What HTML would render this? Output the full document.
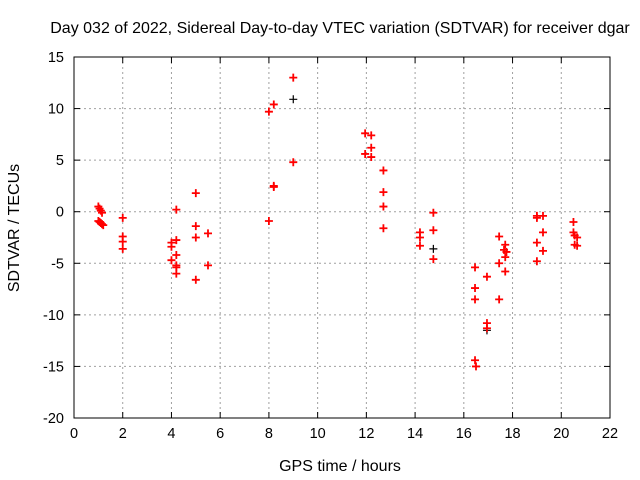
<!DOCTYPE html>
<html><head><meta charset="utf-8"><style>
body{margin:0;background:#fff;}
svg{display:block;font-family:"Liberation Sans",sans-serif;}
</style></head><body>
<svg id="chart" width="640" height="480">
<rect width="640" height="480" fill="#fff"/>
<text x="340" y="33" text-anchor="middle" font-size="16">Day 032 of 2022, Sidereal Day-to-day VTEC variation (SDTVAR) for receiver dgar</text>
<text x="340" y="471" text-anchor="middle" font-size="16">GPS time / hours</text>
<text transform="translate(19,228) rotate(-90)" text-anchor="middle" font-size="16">SDTVAR / TECUs</text>
<g id="grid"></g><g id="ticks"></g><g id="marks"></g>
<rect x="74" y="57" width="536" height="361" fill="none" stroke="#000"/>
</svg>
<script>
const xTicks=[0,2,4,6,8,10,12,14,16,18,20,22];
const yTicks=[-20,-15,-10,-5,0,5,10,15];
const redX=[1.0,1.05,1.1,1.15,1.0,1.05,1.1,1.15,1.2,2.0,2.0,2.0,2.0,4.0,4.0,4.0,4.2,4.2,4.2,4.2,4.2,4.2,5.0,5.0,5.0,5.0,5.5,5.5,8.0,8.0,8.2,8.2,8.2,9.0,9.0,11.95,11.95,12.2,12.2,12.2,12.7,12.7,12.7,12.7,14.2,14.2,14.2,14.75,14.75,14.75,16.46,16.46,16.46,16.46,16.5,16.95,16.95,16.95,17.45,17.45,17.45,17.65,17.7,17.7,17.75,17.7,19.0,19.0,19.0,19.0,19.25,19.25,19.25,20.5,20.5,20.55,20.55,20.65,20.65];
const redY=[0.5,0.3,0.1,-0.1,-0.9,-1.0,-1.1,-1.2,-1.3,-0.6,-2.4,-2.9,-3.6,-3.0,-3.4,-4.7,0.2,-2.75,-4.2,-5.4,-6.0,-5.2,1.8,-1.4,-2.5,-6.6,-2.1,-5.2,9.7,-0.9,10.4,2.5,2.4,13.0,4.8,7.6,5.6,7.4,6.2,5.3,4.0,1.9,0.5,-1.6,-2.0,-2.5,-3.3,-0.1,-1.8,-4.6,-5.4,-7.4,-8.5,-14.4,-15.0,-6.3,-10.8,-11.3,-2.4,-5.0,-8.5,-3.7,-3.2,-4.4,-3.9,-5.8,-0.4,-0.6,-3.0,-4.8,-0.4,-2.0,-3.8,-1.0,-2.0,-2.3,-3.2,-2.5,-3.3];
const blackX=[9.0,14.75,16.95];
const blackY=[10.9,-3.6,-11.5];
const L=74,R=610,T=57,B=418;
const sx=v=>L+(v-0)/(22-0)*(R-L);
const sy=v=>B-(v+20)/35*(B-T);
const NS="http://www.w3.org/2000/svg";
function mk(tag,attrs,parent){const e=document.createElementNS(NS,tag);for(const k in attrs)e.setAttribute(k,attrs[k]);parent.appendChild(e);return e;}
const grid=document.getElementById('grid'),ticks=document.getElementById('ticks'),marks=document.getElementById('marks');
xTicks.forEach(v=>{const x=sx(v);
 if(v>0&&v<22){const g=mk('line',{x1:x,x2:x,y1:T,y2:B,stroke:'#a0a0a0','stroke-dasharray':'2,3'},grid);
 
 }
 mk('line',{x1:x,x2:x,y1:B,y2:B-6,stroke:'#000'},ticks);mk('line',{x1:x,x2:x,y1:T,y2:T+6,stroke:'#000'},ticks);
 const t=mk('text',{x:x,y:B+20,'text-anchor':'middle','font-size':14.5},ticks);t.textContent=v;
 
 });
yTicks.forEach(v=>{const y=sy(v);
 if(v>-20&&v<15){const g=mk('line',{x1:L,x2:R,y1:y,y2:y,stroke:'#a0a0a0','stroke-dasharray':'2,3'},grid);
 
 }
 mk('line',{x1:L,x2:L+6,y1:y,y2:y,stroke:'#000'},ticks);mk('line',{x1:R,x2:R-6,y1:y,y2:y,stroke:'#000'},ticks);
 const t=mk('text',{x:L-10,y:y+5,'text-anchor':'end','font-size':14.5},ticks);t.textContent=v;
 
 });
function plus(x,y,c,name,w){const p=mk('path',{d:`M${x-4} ${y}H${x+4}M${x} ${y-4}V${y+4}`,stroke:c,'stroke-width':w,fill:'none'},marks);
 
 }
blackX.forEach((v,i)=>plus(sx(v),sy(blackY[i]),'#000','black-point',1.2));
redX.forEach((v,i)=>plus(sx(v),sy(redY[i]),'#ff0000','red-point',1.8));
</script>
</body></html>
